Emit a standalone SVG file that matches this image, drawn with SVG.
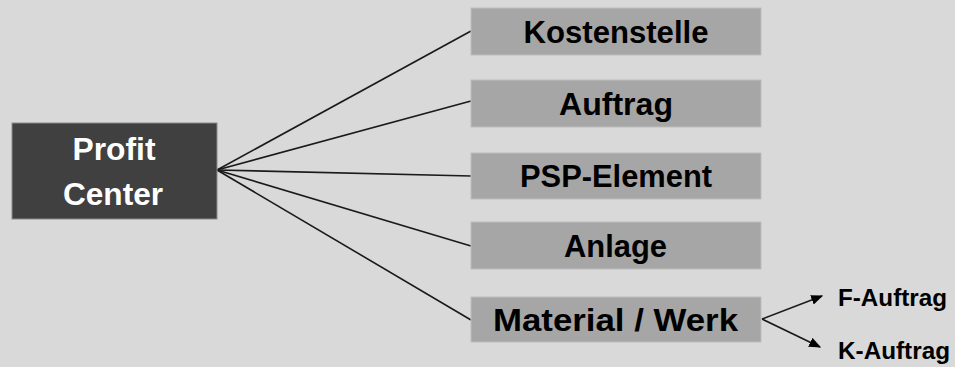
<svg xmlns="http://www.w3.org/2000/svg" width="955" height="367" viewBox="0 0 955 367">
<defs>
<style>
.bg{fill:#d9d9d9}
.item{fill:#a6a6a6;stroke:#bdbdbd;stroke-width:1}
.root{fill:#404040;stroke:#8a8a8a;stroke-width:1}
.t{font-family:"Liberation Sans",Arial,sans-serif;font-weight:bold;text-anchor:middle}
.lt{fill:#000;font-size:31px}
.rt{fill:#fff;font-size:31px}
.st{fill:#000;font-size:23px;text-anchor:start}
.ln{stroke:#1a1a1a;stroke-width:1.6;fill:none}
</style>
<marker id="ah" viewBox="0 0 10 10" refX="9" refY="5" markerWidth="12" markerHeight="10" markerUnits="userSpaceOnUse" orient="auto" preserveAspectRatio="none">
<path d="M0,0 L10,5 L0,10 z" fill="#000"/>
</marker>
</defs>
<rect class="bg" x="0" y="0" width="955" height="367"/>
<g id="connectors">
<line class="ln" x1="217" y1="170" x2="471" y2="31"/>
<line class="ln" x1="217" y1="170" x2="471" y2="101"/>
<line class="ln" x1="217" y1="170" x2="471" y2="176"/>
<line class="ln" x1="217" y1="170" x2="471" y2="246"/>
<line class="ln" x1="217" y1="170" x2="471" y2="320"/>
<line class="ln" x1="762" y1="319" x2="822" y2="296" marker-end="url(#ah)"/>
<line class="ln" x1="762" y1="319" x2="820" y2="347" marker-end="url(#ah)"/>
</g>
<g id="profit-center">
<rect class="root" x="12" y="123" width="205" height="96"/>
<text class="t rt" x="114" y="160" textLength="83" lengthAdjust="spacingAndGlyphs">Profit</text>
<text class="t rt" x="113" y="205" textLength="100" lengthAdjust="spacingAndGlyphs">Center</text>
</g>
<g id="kostenstelle">
<rect class="item" x="471" y="8" width="290" height="47"/>
<text class="t lt" x="616" y="43" textLength="185" lengthAdjust="spacingAndGlyphs">Kostenstelle</text>
</g>
<g id="auftrag">
<rect class="item" x="471" y="80" width="290" height="47"/>
<text class="t lt" x="616" y="115" textLength="114" lengthAdjust="spacingAndGlyphs">Auftrag</text>
</g>
<g id="psp-element">
<rect class="item" x="471" y="153" width="290" height="46"/>
<text class="t lt" x="616" y="187" textLength="192" lengthAdjust="spacingAndGlyphs">PSP-Element</text>
</g>
<g id="anlage">
<rect class="item" x="471" y="222" width="290" height="47"/>
<text class="t lt" x="615.5" y="257" textLength="103" lengthAdjust="spacingAndGlyphs">Anlage</text>
</g>
<g id="material-werk">
<rect class="item" x="471" y="297" width="290" height="45"/>
<text class="t lt" x="615.5" y="331" textLength="245" lengthAdjust="spacingAndGlyphs">Material / Werk</text>
</g>
<g id="f-auftrag">
<text class="t st" x="838" y="306" textLength="109" lengthAdjust="spacingAndGlyphs">F-Auftrag</text>
</g>
<g id="k-auftrag">
<text class="t st" x="838" y="359" textLength="112" lengthAdjust="spacingAndGlyphs">K-Auftrag</text>
</g>
</svg>
